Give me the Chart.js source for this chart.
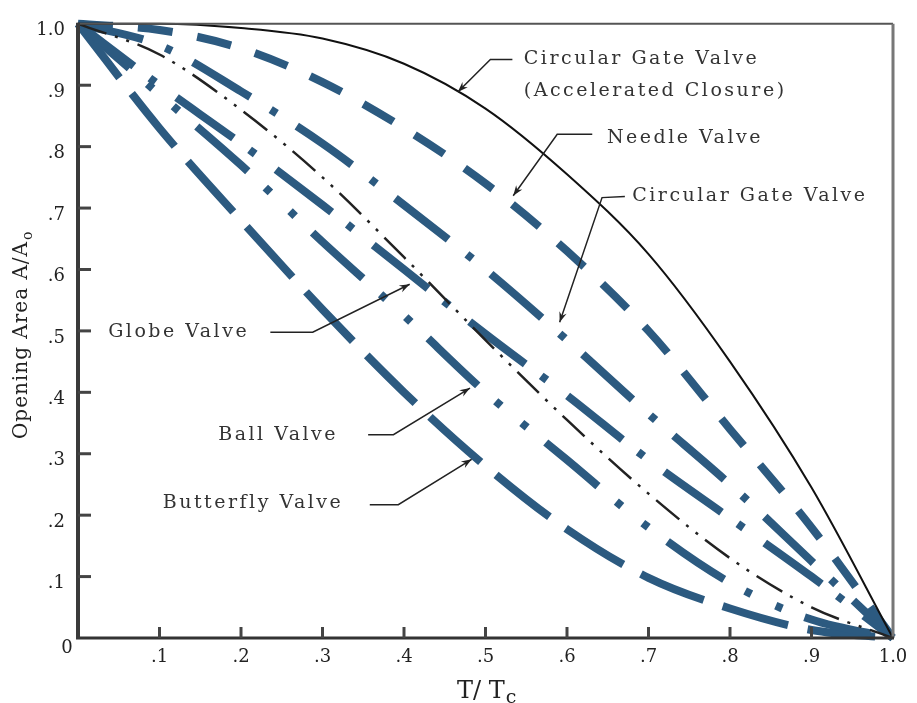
<!DOCTYPE html>
<html>
<head>
<meta charset="utf-8">
<script src="https://cdn.jsdelivr.net/npm/chart.js@4"></script>
<style>
html, body { margin: 0; padding: 0; background: #fff; }
</style>
</head>
<body>
<canvas id="chart" width="917" height="703"></canvas>
<script>
// closure time ratio T/Tc
var tValues = [0, 0.1, 0.2, 0.3, 0.4, 0.5, 0.6, 0.7, 0.8, 0.9, 1.0];
var tickValues = [0.1, 0.2, 0.3, 0.4, 0.5, 0.6, 0.7, 0.8, 0.9];

// opening area A/Ao
var gateAccelerated = [1.0, 1.0, 0.993, 0.976, 0.935, 0.862, 0.755, 0.625, 0.45, 0.245, 0];
var needleValve     = [1.0, 0.99, 0.96, 0.905, 0.83, 0.74, 0.63, 0.50, 0.34, 0.18, 0];
var gateValve       = [1.0, 0.965, 0.89, 0.805, 0.705, 0.60, 0.485, 0.365, 0.25, 0.125, 0];
var globeValve      = [1.0, 0.90, 0.805, 0.705, 0.60, 0.495, 0.395, 0.29, 0.195, 0.10, 0];
var ballValve       = [1.0, 0.885, 0.77, 0.645, 0.525, 0.40, 0.29, 0.18, 0.09, 0.03, 0];
var butterflyValve  = [1.0, 0.83, 0.68, 0.535, 0.40, 0.28, 0.177, 0.098, 0.048, 0.013, 0];
var referenceLine   = [1.0, 0.95, 0.86, 0.75, 0.62, 0.485, 0.355, 0.235, 0.13, 0.05, 0];

var blue = '#2c5a80';
var serif = '"DejaVu Serif", "Liberation Serif", serif';

function toPoints(ys) {
	var pts = [];
	for (var i = 0; i < tValues.length; i++) {
		pts.push({ x: tValues[i], y: ys[i] });
	}
	return pts;
}

function tickLabel(v) {
	var n = Math.round(v * 10);
	if (n === 0) return '';
	if (n === 10) return '1.0';
	return '.' + n;
}

// callout labels: text start + leader path (data coords), last point is the arrow tip
var callouts = [
	{ lines: ['Circular Gate Valve', '(Accelerated Closure)'], x: 0.547, y: 0.942,
	  path: [[0.533, 0.942], [0.506, 0.942], [0.466, 0.889]] },
	{ lines: ['Needle Valve'], x: 0.649, y: 0.814,
	  path: [[0.631, 0.82], [0.588, 0.82], [0.534, 0.72]] },
	{ lines: ['Circular Gate Valve'], x: 0.68, y: 0.719,
	  path: [[0.671, 0.719], [0.643, 0.717], [0.591, 0.514]] },
	{ lines: ['Globe Valve'], x: 0.037, y: 0.498,
	  path: [[0.236, 0.498], [0.288, 0.498], [0.407, 0.576]] },
	{ lines: ['Ball Valve'], x: 0.172, y: 0.331,
	  path: [[0.356, 0.331], [0.387, 0.331], [0.481, 0.407]] },
	{ lines: ['Butterfly Valve'], x: 0.104, y: 0.219,
	  path: [[0.358, 0.217], [0.393, 0.217], [0.483, 0.291]] }
];

function edge(ctx, x1, y1, x2, y2, color, width) {
	ctx.strokeStyle = color;
	ctx.lineWidth = width;
	ctx.beginPath(); ctx.moveTo(x1, y1); ctx.lineTo(x2, y2); ctx.stroke();
}

var decorPlugin = {
	id: 'decor',
	afterDatasetsDraw: function(chart) {
		var ctx = chart.ctx;
		var xs = chart.scales.x, ys = chart.scales.y;
		var a = chart.chartArea;
		ctx.save();

		// frame: heavy left/bottom axes, lighter top/right
		edge(ctx, a.left - 1, a.top, a.right, a.top, '#555', 2);
		edge(ctx, a.right, a.top, a.right, a.bottom, '#777', 3);
		edge(ctx, a.left - 2, a.bottom, a.right + 1, a.bottom, '#333', 3);
		edge(ctx, a.left, a.top - 1, a.left, a.bottom + 1, '#3a3a3a', 4);

		// inward tick marks
		ctx.strokeStyle = '#444';
		ctx.lineWidth = 3;
		tickValues.forEach(function(v) {
			var py = ys.getPixelForValue(v);
			ctx.beginPath(); ctx.moveTo(a.left, py); ctx.lineTo(a.left + 13, py); ctx.stroke();
			var px = xs.getPixelForValue(v);
			ctx.beginPath(); ctx.moveTo(px, a.bottom); ctx.lineTo(px, a.bottom - 11); ctx.stroke();
		});

		// corner zero
		ctx.fillStyle = '#222';
		ctx.font = '18px ' + serif;
		ctx.textAlign = 'center';
		ctx.textBaseline = 'middle';
		ctx.fillText('0', a.left - 11, a.bottom + 10);

		// callouts
		ctx.font = '19px ' + serif;
		ctx.textAlign = 'left';
		ctx.textBaseline = 'middle';
		ctx.letterSpacing = '2.5px';
		callouts.forEach(function(c) {
			var tx = xs.getPixelForValue(c.x), ty = ys.getPixelForValue(c.y);
			ctx.fillStyle = '#333';
			c.lines.forEach(function(s, i) { ctx.fillText(s, tx, ty + i * 32); });
			ctx.strokeStyle = '#222';
			ctx.lineWidth = 1.5;
			ctx.beginPath();
			c.path.forEach(function(p, i) {
				var px = xs.getPixelForValue(p[0]), py = ys.getPixelForValue(p[1]);
				if (i === 0) ctx.moveTo(px, py); else ctx.lineTo(px, py);
			});
			ctx.stroke();
			var n = c.path.length;
			var x1 = xs.getPixelForValue(c.path[n - 2][0]), y1 = ys.getPixelForValue(c.path[n - 2][1]);
			var x2 = xs.getPixelForValue(c.path[n - 1][0]), y2 = ys.getPixelForValue(c.path[n - 1][1]);
			var ang = Math.atan2(y2 - y1, x2 - x1);
			ctx.fillStyle = '#222';
			ctx.beginPath();
			ctx.moveTo(x2, y2);
			ctx.lineTo(x2 - 11 * Math.cos(ang - 0.35), y2 - 11 * Math.sin(ang - 0.35));
			ctx.lineTo(x2 - 7 * Math.cos(ang), y2 - 7 * Math.sin(ang));
			ctx.lineTo(x2 - 11 * Math.cos(ang + 0.35), y2 - 11 * Math.sin(ang + 0.35));
			ctx.closePath();
			ctx.fill();
		});
		ctx.letterSpacing = '0px';

		// x title  T/ Tc
		ctx.fillStyle = '#222';
		ctx.textAlign = 'left';
		ctx.textBaseline = 'alphabetic';
		ctx.font = '24px ' + serif;
		var xt = 'T/ T';
		var x0 = 457;
		ctx.fillText(xt, x0, 698);
		var w = ctx.measureText(xt).width;
		ctx.font = '19px ' + serif;
		ctx.fillText('c', x0 + w + 1, 703);

		// y title  Opening Area A/Ao
		ctx.save();
		ctx.translate(27, 335);
		ctx.rotate(-Math.PI / 2);
		ctx.font = '20px ' + serif;
		ctx.letterSpacing = '1px';
		var yt = 'Opening Area A/A';
		var wy = ctx.measureText(yt).width;
		ctx.fillText(yt, -wy / 2 - 5, 0);
		ctx.font = '14px ' + serif;
		ctx.fillText('o', wy / 2 - 4, 5);
		ctx.restore();

		ctx.restore();
	}
};

function series(label, ys, color, width, dash) {
	return {
		label: label,
		data: toPoints(ys),
		borderColor: color,
		borderWidth: width,
		borderDash: dash,
		borderCapStyle: 'butt',
		pointRadius: 0,
		fill: false,
		cubicInterpolationMode: 'monotone',
		clip: false
	};
}

var ctx = document.getElementById('chart').getContext('2d');
var valveChart = new Chart(ctx, {
	type: 'line',
	data: {
		datasets: [
			series('Circular Gate Valve (Accelerated Closure)', gateAccelerated, '#111', 2, []),
			series('Reference', referenceLine, '#222', 2.5, [30, 9, 3, 9, 3, 9]),
			series('Needle Valve', needleValve, blue, 8, [35, 25]),
			series('Circular Gate Valve', gateValve, blue, 8, [67, 24, 7, 24]),
			series('Globe Valve', globeValve, blue, 8, [70, 20, 7, 26]),
			series('Ball Valve', ballValve, blue, 8, [68, 24, 7, 27, 7, 24]),
			series('Butterfly Valve', butterflyValve, blue, 8, [68, 20])
		]
	},
	options: {
		responsive: false,
		animation: false,
		devicePixelRatio: 1,
		layout: { padding: { left: 18, right: 24, top: 16, bottom: 0 } },
		plugins: {
			legend: { display: false },
			tooltip: { enabled: false }
		},
		scales: {
			x: {
				type: 'linear',
				min: 0,
				max: 1,
				grid: { display: false, drawTicks: false },
				border: { display: false },
				afterFit: function(scale) { scale.height = 65; },
				ticks: {
					stepSize: 0.1,
					padding: 9,
					color: '#222',
					font: { family: serif, size: 18 },
					maxRotation: 0,
					callback: tickLabel
				}
			},
			y: {
				type: 'linear',
				min: 0,
				max: 1,
				grid: { display: false, drawTicks: false },
				border: { display: false },
				afterFit: function(scale) { scale.width = 60; },
				ticks: {
					stepSize: 0.1,
					padding: 13,
					labelOffset: 7,
					color: '#222',
					font: { family: serif, size: 18 },
					callback: tickLabel
				}
			}
		}
	},
	plugins: [decorPlugin]
});
</script>
</body>
</html>
